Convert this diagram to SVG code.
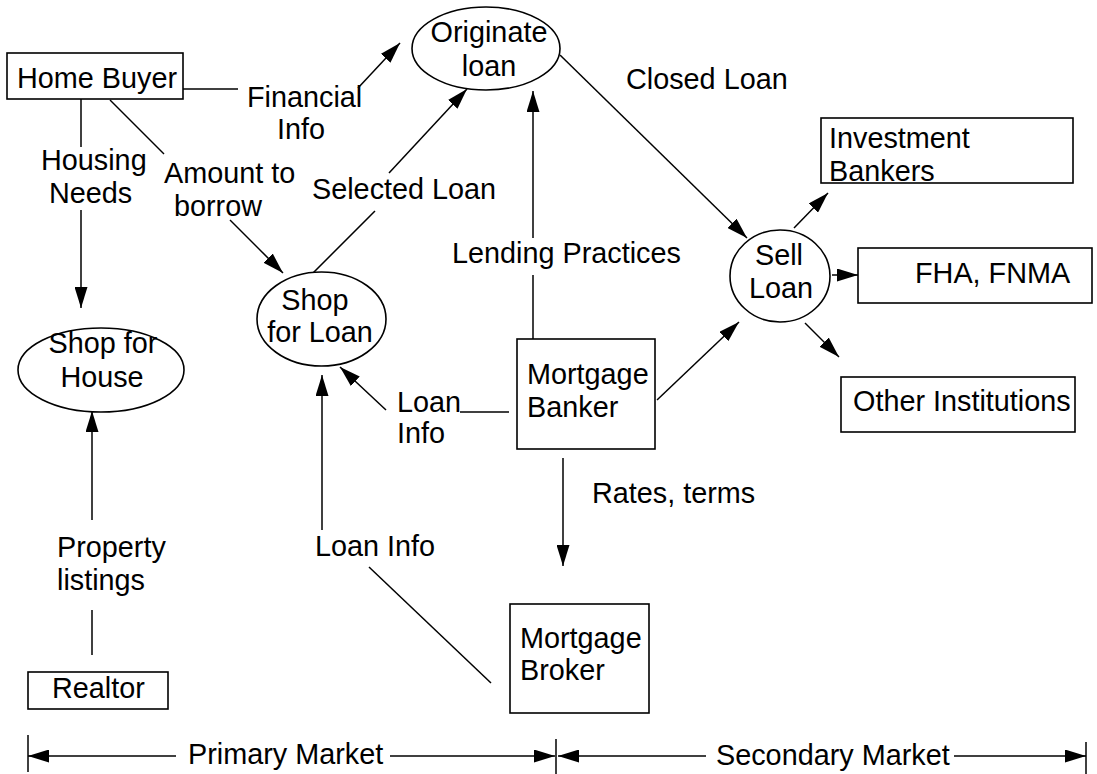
<svg xmlns="http://www.w3.org/2000/svg" width="1097" height="774" viewBox="0 0 1097 774">
<style>
text{font-family:"Liberation Sans",Arial,sans-serif;font-size:28.8px;fill:#000}
.n{fill:#fff;stroke:#000;stroke-width:1.6}
.c line{stroke:#000;stroke-width:1.5}
.a{marker-end:url(#ah)}
</style>
<defs>
<marker id="ah" markerUnits="userSpaceOnUse" markerWidth="22" markerHeight="13" refX="21" refY="6.5" orient="auto">
<path d="M0,0 L21,6.5 L0,13 z" fill="#000"/>
</marker>
</defs>
<rect width="1097" height="774" fill="#fff"/>
<g id="connectors" class="c">
<line x1="183" y1="89" x2="238" y2="89"/>
<line class="a" x1="358" y1="88" x2="400" y2="43"/>
<line x1="110" y1="100" x2="164" y2="154"/>
<line class="a" x1="230" y1="220" x2="283" y2="273"/>
<line x1="81" y1="99" x2="81" y2="147"/>
<line class="a" x1="81" y1="210" x2="81" y2="308"/>
<line class="a" x1="92" y1="520" x2="92" y2="411"/>
<line x1="92" y1="610" x2="92" y2="655"/>
<line x1="312" y1="274" x2="375" y2="211"/>
<line class="a" x1="389" y1="173" x2="467" y2="89"/>
<line class="a" x1="533" y1="238" x2="533" y2="91"/>
<line x1="533" y1="275" x2="533" y2="339"/>
<line class="a" x1="386" y1="410" x2="340" y2="367"/>
<line x1="460" y1="412" x2="509" y2="412"/>
<line class="a" x1="322" y1="530" x2="322" y2="375"/>
<line x1="369" y1="567" x2="491" y2="683"/>
<line class="a" x1="563" y1="458" x2="563" y2="566"/>
<line class="a" x1="560" y1="55" x2="747" y2="238"/>
<line class="a" x1="657" y1="400" x2="739" y2="322"/>
<line class="a" x1="794" y1="228" x2="828" y2="193"/>
<line class="a" x1="832" y1="275" x2="858" y2="275"/>
<line class="a" x1="805" y1="323" x2="839" y2="357"/>
<line x1="28" y1="735" x2="28" y2="772"/>
<line x1="556" y1="739" x2="556" y2="774"/>
<line x1="1086" y1="742" x2="1086" y2="774"/>
<line class="a" x1="176" y1="756" x2="28" y2="756"/>
<line class="a" x1="390" y1="756" x2="555" y2="756"/>
<line class="a" x1="706" y1="756" x2="558" y2="756"/>
<line class="a" x1="954" y1="756" x2="1086" y2="756"/>
</g>
<g id="labels">
<text x="247" y="107">Financial</text>
<text x="277" y="139">Info</text>
<text x="164" y="183">Amount to</text>
<text x="174" y="216">borrow</text>
<text x="41" y="170">Housing</text>
<text x="49" y="203">Needs</text>
<text x="312" y="199">Selected Loan</text>
<text x="452" y="263">Lending Practices</text>
<text x="626" y="89">Closed Loan</text>
<text x="397" y="412">Loan</text>
<text x="397" y="443">Info</text>
<text x="57" y="557">Property</text>
<text x="57" y="590">listings</text>
<text x="315" y="556">Loan Info</text>
<text x="592" y="503">Rates, terms</text>
<text x="188" y="764">Primary Market</text>
<text x="716" y="765">Secondary Market</text>
</g>
<g id="home-buyer">
<rect class="n" x="7" y="53" width="176" height="46"/>
<text x="17" y="88">Home Buyer</text>
</g>
<g id="originate-loan">
<ellipse class="n" cx="486" cy="48.5" rx="74" ry="41.5"/>
<text x="489" y="42" text-anchor="middle">Originate</text>
<text x="489" y="76" text-anchor="middle">loan</text>
</g>
<g id="shop-for-house">
<ellipse class="n" cx="101" cy="370" rx="83" ry="42"/>
<text x="103" y="353" text-anchor="middle">Shop for</text>
<text x="102" y="387" text-anchor="middle">House</text>
</g>
<g id="shop-for-loan">
<ellipse class="n" cx="321.5" cy="319" rx="64.5" ry="47"/>
<text x="315" y="310" text-anchor="middle">Shop</text>
<text x="320" y="342" text-anchor="middle">for Loan</text>
</g>
<g id="mortgage-banker">
<rect class="n" x="517" y="339" width="138" height="110"/>
<text x="527" y="384">Mortgage</text>
<text x="527" y="417">Banker</text>
</g>
<g id="sell-loan">
<ellipse class="n" cx="780" cy="276" rx="50" ry="46"/>
<text x="779" y="265" text-anchor="middle">Sell</text>
<text x="781" y="298" text-anchor="middle">Loan</text>
</g>
<g id="investment-bankers">
<rect class="n" x="821" y="118" width="252" height="65"/>
<text x="829" y="148">Investment</text>
<text x="829" y="181">Bankers</text>
</g>
<g id="fha-fnma">
<rect class="n" x="858" y="248" width="234" height="55"/>
<text x="915" y="283">FHA, FNMA</text>
</g>
<g id="other-institutions">
<rect class="n" x="841" y="377" width="234" height="55"/>
<text x="853" y="411">Other Institutions</text>
</g>
<g id="realtor">
<rect class="n" x="28" y="672" width="140" height="37"/>
<text x="52" y="698">Realtor</text>
</g>
<g id="mortgage-broker">
<rect class="n" x="510" y="604" width="139" height="109"/>
<text x="520" y="648">Mortgage</text>
<text x="520" y="680">Broker</text>
</g>
</svg>
